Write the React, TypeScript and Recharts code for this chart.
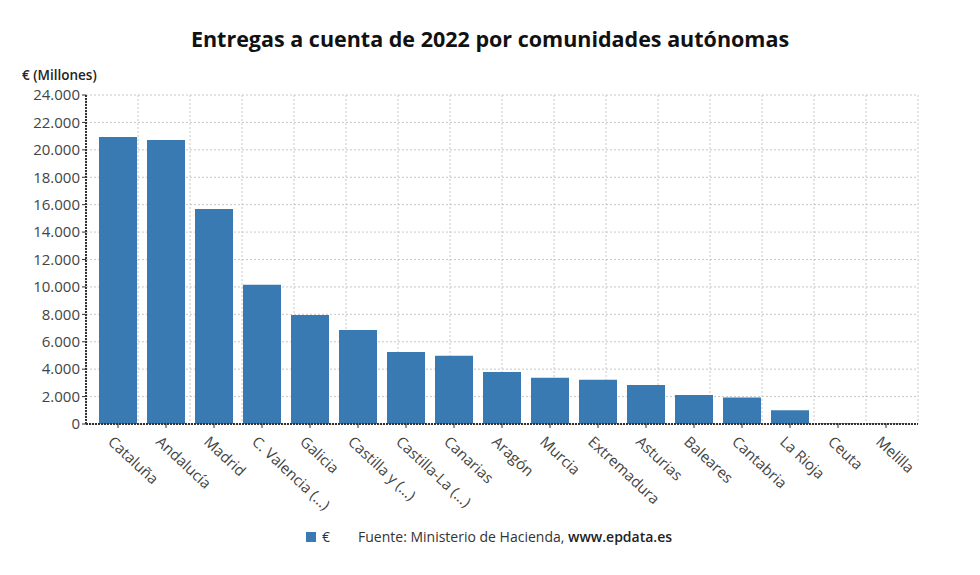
import { BarChart, Bar, XAxis, YAxis, CartesianGrid } from "recharts";

const comunidades = [
  "Cataluña", "Andalucía", "Madrid", "C. Valencia (...)", "Galicia", "Castilla y (...)",
  "Castilla-La (...)", "Canarias", "Aragón", "Murcia", "Extremadura", "Asturias",
  "Baleares", "Cantabria", "La Rioja", "Ceuta", "Melilla",
];
const entregas = [
  20930, 20710, 15690, 10150, 7960, 6860, 5260, 4970, 3790, 3370, 3220, 2850, 2120,
  1930, 1000, 50, 45,
];
const yTicks = [0, 2000, 4000, 6000, 8000, 10000, 12000, 14000, 16000, 18000, 20000, 22000, 24000];

const data = comunidades.map((name, i) => ({ name, valor: entregas[i] }));

const font = "'Open Sans', 'Noto Sans', sans-serif";
const barColor = "#3a7ab3";

const fmt = (v: number) => String(v).replace(/\B(?=(\d{3})+(?!\d))/g, ".");

function RotatedTick({ x, y, payload }: any) {
  return (
    <g transform={`translate(${x},${y})`}>
      <text
        x={0}
        y={0}
        transform="translate(-11,13) rotate(43)"
        textAnchor="start"
        fill="#444"
        fontSize={15}
        fontFamily={font}
      >
        {payload.value}
      </text>
    </g>
  );
}

export default function App() {
  return (
    <div style={{ position: "relative", width: 980, height: 575, margin: -8, background: "#fff", fontFamily: font }}>
      <div
        style={{
          position: "absolute", top: 24, left: 0, width: 980, textAlign: "center",
          fontSize: 21.5, fontWeight: 700, color: "#111",
        }}
      >
        Entregas a cuenta de 2022 por comunidades autónomas
      </div>
      <div style={{ position: "absolute", top: 66, left: 22, fontSize: 13.5, fontWeight: 600, color: "#222" }}>
        € (Millones)
      </div>
      <BarChart
        width={980}
        height={575}
        data={data}
        margin={{ top: 95, right: 62, bottom: 0, left: 0 }}
      >
        <CartesianGrid
          stroke="#c8c8c8"
          strokeDasharray="2 2"
          verticalCoordinatesGenerator={({ offset }: any) =>
            Array.from({ length: 17 }, (_, k) => offset.left + (offset.width * k) / 16)
          }
        />
        <XAxis
          dataKey="name"
          interval={0}
          height={151}
          padding={{ left: 8, right: 8 }}
          tick={<RotatedTick />}
          tickSize={4}
          tickLine={{ stroke: "#333" }}
          axisLine={{ stroke: "#333", strokeWidth: 2, strokeDasharray: "2 1" }}
        />
        <YAxis
          width={86}
          domain={[0, 24000]}
          ticks={yTicks}
          interval={0}
          tickFormatter={fmt}
          tickSize={4}
          tickLine={{ stroke: "#333" }}
          axisLine={{ stroke: "#333", strokeWidth: 2, strokeDasharray: "2 1" }}
          tick={{ fill: "#444", fontSize: 15, fontFamily: font }}
        />
        <Bar dataKey="valor" fill={barColor} barSize={38} isAnimationActive={false} />
      </BarChart>
      <div
        style={{
          position: "absolute", top: 527, left: 306, fontSize: 14, color: "#333",
          display: "flex", alignItems: "center",
        }}
      >
        <span style={{ display: "inline-block", width: 10, height: 10, background: barColor, marginRight: 6 }} />
        <span>€</span>
        <span style={{ marginLeft: 28 }}>
          Fuente: Ministerio de Hacienda, <span style={{ fontWeight: 600, color: "#222" }}>www.epdata.es</span>
        </span>
      </div>
    </div>
  );
}
